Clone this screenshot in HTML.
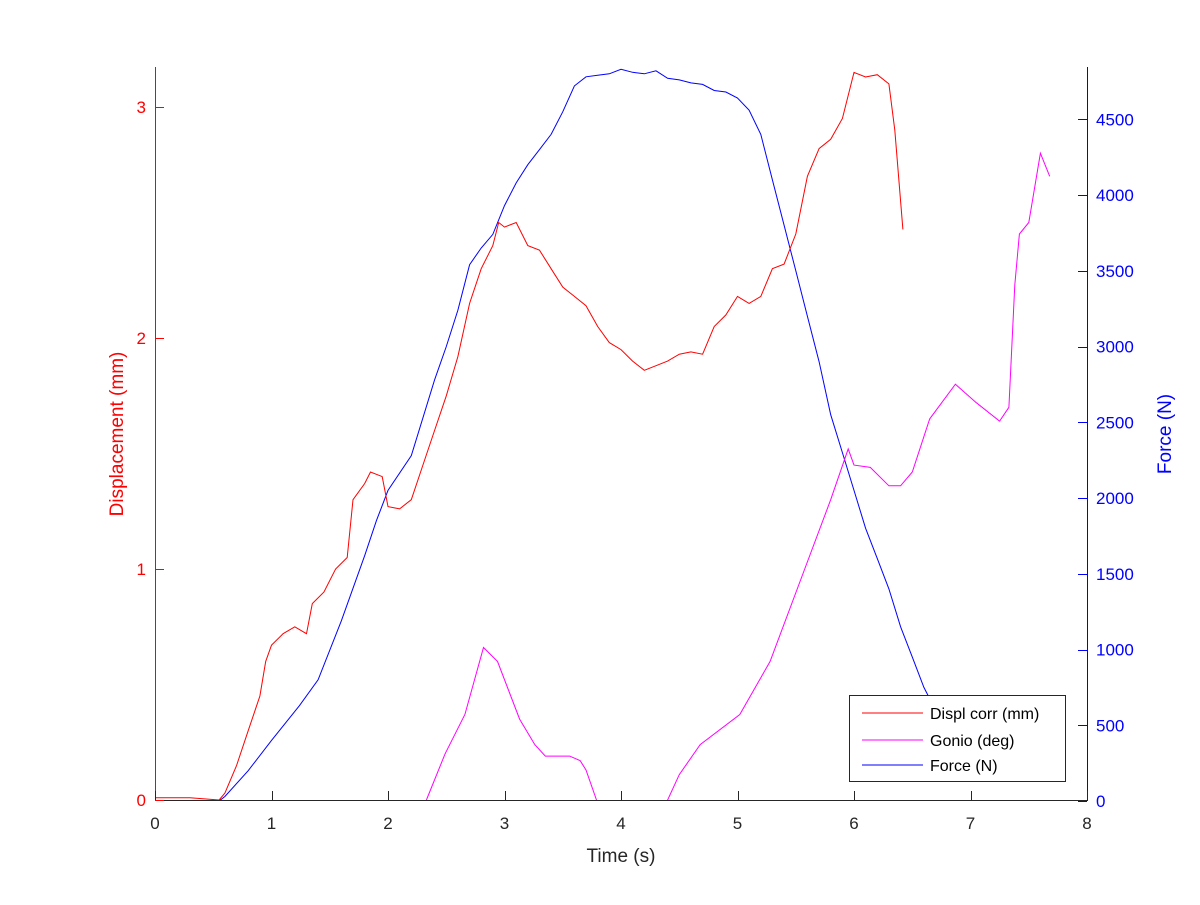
<!DOCTYPE html>
<html><head><meta charset="utf-8"><style>
body{margin:0;background:#fff;}
svg text{font-family:"Liberation Sans",sans-serif;}
</style></head><body>
<svg id="chart" width="1200" height="900" viewBox="0 0 1200 900">
<rect width="1200" height="900" fill="#fff"/>
<defs><clipPath id="pa"><rect x="155" y="67" width="932" height="734"/></clipPath></defs>
<g id="series" clip-path="url(#pa)"></g>
<g id="axes"></g>
<g id="legend">
<rect x="849.5" y="695.5" width="216" height="86" fill="#fff" stroke="#262626" stroke-width="1"/>
<line x1="862" y1="713" x2="923" y2="713" stroke="#ff0000"/>
<text x="930" y="719" font-size="16" fill="#000">Displ corr (mm)</text>
<line x1="862" y1="740" x2="923" y2="740" stroke="#ff00ff"/>
<text x="930" y="746" font-size="16" fill="#000">Gonio (deg)</text>
<line x1="862" y1="765" x2="923" y2="765" stroke="#0000ff"/>
<text x="930" y="771" font-size="16" fill="#000">Force (N)</text>
</g>
</svg>
<script>
const displT=[0,0.3,0.55,0.6,0.7,0.8,0.9,0.95,1.0,1.1,1.2,1.3,1.35,1.45,1.55,1.65,1.7,1.8,1.85,1.95,2.0,2.1,2.2,2.3,2.4,2.5,2.6,2.7,2.8,2.9,2.95,3.0,3.1,3.2,3.3,3.4,3.5,3.6,3.7,3.8,3.9,4.0,4.1,4.2,4.3,4.4,4.5,4.6,4.7,4.8,4.9,5.0,5.1,5.2,5.3,5.4,5.5,5.6,5.7,5.8,5.9,6.0,6.1,6.2,6.3,6.35,6.42];
const displV=[0.01,0.01,0.0,0.03,0.15,0.3,0.45,0.6,0.67,0.72,0.75,0.72,0.85,0.9,1.0,1.05,1.3,1.37,1.42,1.4,1.27,1.26,1.3,1.45,1.6,1.75,1.92,2.15,2.3,2.4,2.5,2.48,2.5,2.4,2.38,2.3,2.22,2.18,2.14,2.05,1.98,1.95,1.9,1.86,1.88,1.9,1.93,1.94,1.93,2.05,2.1,2.18,2.15,2.18,2.3,2.32,2.45,2.7,2.82,2.86,2.95,3.15,3.13,3.14,3.1,2.9,2.47];
const gonioT=[2.33,2.49,2.66,2.82,2.94,3.13,3.26,3.35,3.56,3.65,3.7,3.79,3.82,null,4.38,4.4,4.5,4.68,5.02,5.28,5.54,5.8,5.95,6.0,6.14,6.3,6.4,6.5,6.65,6.87,7.05,7.25,7.33,7.38,7.42,7.5,7.6,7.68];
const gonioV=[0,0.2,0.37,0.66,0.6,0.35,0.24,0.19,0.19,0.17,0.13,0,-0.05,null,-0.05,0,0.11,0.24,0.37,0.6,0.95,1.3,1.52,1.45,1.44,1.36,1.36,1.42,1.65,1.8,1.72,1.64,1.7,2.23,2.45,2.5,2.8,2.7];
const forceT=[0,0.55,0.6,0.8,1.0,1.24,1.4,1.6,1.8,1.9,2.0,2.2,2.4,2.5,2.6,2.7,2.8,2.9,3.0,3.1,3.2,3.3,3.4,3.5,3.6,3.7,3.8,3.9,4.0,4.1,4.2,4.3,4.4,4.5,4.6,4.7,4.8,4.9,5.0,5.1,5.2,5.3,5.4,5.5,5.6,5.7,5.8,5.9,6.0,6.1,6.2,6.3,6.4,6.5,6.6,6.7,6.8,6.9];
const forceV=[0,0,30,200,400,630,800,1190,1620,1850,2050,2280,2780,3000,3240,3540,3650,3740,3930,4080,4200,4300,4400,4550,4720,4780,4790,4800,4830,4810,4800,4820,4770,4760,4740,4730,4690,4680,4640,4560,4400,4100,3800,3500,3200,2900,2550,2300,2050,1800,1600,1400,1150,950,750,600,450,300];
const xTicks=[0,1,2,3,4,5,6,7,8];
const yLTicks=[0,1,2,3];
const yRTicks=[0,500,1000,1500,2000,2500,3000,3500,4000,4500];
const X=t=>155+t*116.5, YL=v=>800-v*231, YR=v=>801-v*0.1515;
const NS="http://www.w3.org/2000/svg";
function mk(tag,attrs,parent){const e=document.createElementNS(NS,tag);for(const k in attrs)e.setAttribute(k,attrs[k]);parent.appendChild(e);return e;}
const S=document.getElementById('series'),A=document.getElementById('axes');
function pathD(T,V,yf){let d='',pen=false;for(let i=0;i<T.length;i++){if(T[i]===null){pen=false;continue;}d+=(pen?'L':'M')+X(T[i]).toFixed(1)+','+yf(V[i]).toFixed(1);pen=true;}return d;}
let p=mk('path',{d:pathD(forceT,forceV,YR),fill:'none',stroke:'#0000ff','stroke-width':1},S);


p=mk('path',{d:pathD(gonioT,gonioV,YL),fill:'none',stroke:'#ff00ff','stroke-width':1},S);


p=mk('path',{d:pathD(displT,displV,YL),fill:'none',stroke:'#ff0000','stroke-width':1},S);


mk('line',{x1:155,y1:800.5,x2:1087,y2:800.5,stroke:'#262626'},A);
mk('line',{x1:155.5,y1:67,x2:155.5,y2:801,stroke:'#ff0000'},A);
mk('line',{x1:1087.5,y1:67,x2:1087.5,y2:801,stroke:'#0000ff'},A);
xTicks.forEach(t=>{const x=Math.round(X(t))+0.5;mk('line',{x1:x,y1:800,x2:x,y2:791,stroke:'#262626'},A);
const tx=mk('text',{x:X(t),y:829,'font-size':17,'text-anchor':'middle',fill:'#262626'},A);tx.textContent=t;

});
yLTicks.forEach(v=>{const y=Math.round(YL(v))+0.5;mk('line',{x1:155,y1:y,x2:164,y2:y,stroke:'#ff0000'},A);
const tx=mk('text',{x:146,y:YL(v)+6,'font-size':17,'text-anchor':'end',fill:'#ff0000'},A);tx.textContent=v;

});
yRTicks.forEach(v=>{const y=Math.round(YR(v))+0.5;mk('line',{x1:1078,y1:y,x2:1087,y2:y,stroke:'#0000ff'},A);
const tx=mk('text',{x:1096,y:YR(v)+6,'font-size':17,fill:'#0000ff'},A);tx.textContent=v;

});
let t=mk('text',{x:621,y:862,'font-size':19,'text-anchor':'middle',fill:'#262626'},A);t.textContent='Time (s)';


t=mk('text',{x:0,y:0,'font-size':19,'text-anchor':'middle',fill:'#ff0000',transform:'translate(123,434) rotate(-90)'},A);t.textContent='Displacement (mm)';


t=mk('text',{x:0,y:0,'font-size':19,'text-anchor':'middle',fill:'#0000ff',transform:'translate(1171,434) rotate(-90)'},A);t.textContent='Force (N)';


</script>
</body></html>
